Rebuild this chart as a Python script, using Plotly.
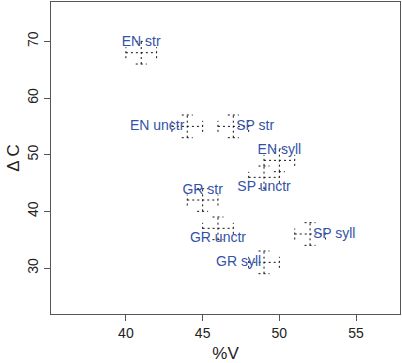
import plotly.graph_objects as go

labels = ["EN str", "EN unctr", "SP str", "EN syll", "SP unctr",
          "GR str", "GR unctr", "SP syll", "GR syll"]
pct_v = [41, 44, 47, 50, 49, 45, 46, 52, 49]
delta_c = [68, 55, 55, 49, 46, 42, 37, 36, 31]
err_v = [1, 1, 1, 1, 1, 1, 1, 1, 1]
err_c = [2, 2, 2, 2, 2, 2, 2, 2, 2]
label_pos = ["top center", "middle left", "middle right", "top center",
             "bottom center", "top center", "bottom center", "middle right",
             "middle left"]
x_ticks = [40, 45, 50, 55]
y_ticks = [30, 40, 50, 60, 70]

W, H = 402, 363
ML, MR, MT, MB = 51, 2, 2, 49
x_range = [35.12, 57.86]
y_range = [21.88, 76.95]
px_x = (W - ML - MR) / (x_range[1] - x_range[0])
px_y = (H - MT - MB) / (y_range[1] - y_range[0])
cap_px = 5.5
cx = cap_px / px_x
cy = cap_px / px_y

lx, ly = [], []
for x, y, ex, ey in zip(pct_v, delta_c, err_v, err_c):
    # horizontal bar + caps
    lx += [x - ex, x + ex, None, x - ex, x - ex, None, x + ex, x + ex, None]
    ly += [y, y, None, y - cy, y + cy, None, y - cy, y + cy, None]
    # vertical bar + caps
    lx += [x, x, None, x - cx, x + cx, None, x - cx, x + cx, None]
    ly += [y - ey, y + ey, None, y - ey, y - ey, None, y + ey, y + ey, None]

fig = go.Figure()
fig.add_trace(go.Scatter(x=lx, y=ly, mode="lines",
                         line=dict(color="#111111", width=1, dash="2px,3px"),
                         hoverinfo="skip", showlegend=False))
fig.add_trace(go.Scatter(x=pct_v, y=delta_c, mode="markers+text",
                         text=labels, textposition=label_pos,
                         marker=dict(size=3, color="rgba(0,0,0,0)"),
                         textfont=dict(family="Liberation Sans", size=14, color="#3352a8"),
                         showlegend=False))

axis_common = dict(showline=True, mirror=True, linecolor="#555555", linewidth=1,
                   ticks="outside", ticklen=6, tickcolor="#555555", showgrid=False,
                   zeroline=False, tickfont=dict(family="Liberation Sans", size=14, color="#222222"))
fig.update_layout(
    width=W, height=H,
    margin=dict(l=ML, r=MR, t=MT, b=MB),
    paper_bgcolor="white", plot_bgcolor="white",
    font=dict(family="Liberation Sans", size=14, color="#222222"),
    xaxis=dict(range=x_range, tickvals=x_ticks, title=dict(text="%V", standoff=11),
               automargin=False, **axis_common),
    yaxis=dict(range=y_range, tickvals=y_ticks, tickangle=-90,
               title=dict(text="Δ C", standoff=1), automargin=False, **axis_common),
)
fig.write_html("out.html", config={"displayModeBar": False},
               post_script="document.body.style.margin='0px';document.body.style.overflow='hidden';")
